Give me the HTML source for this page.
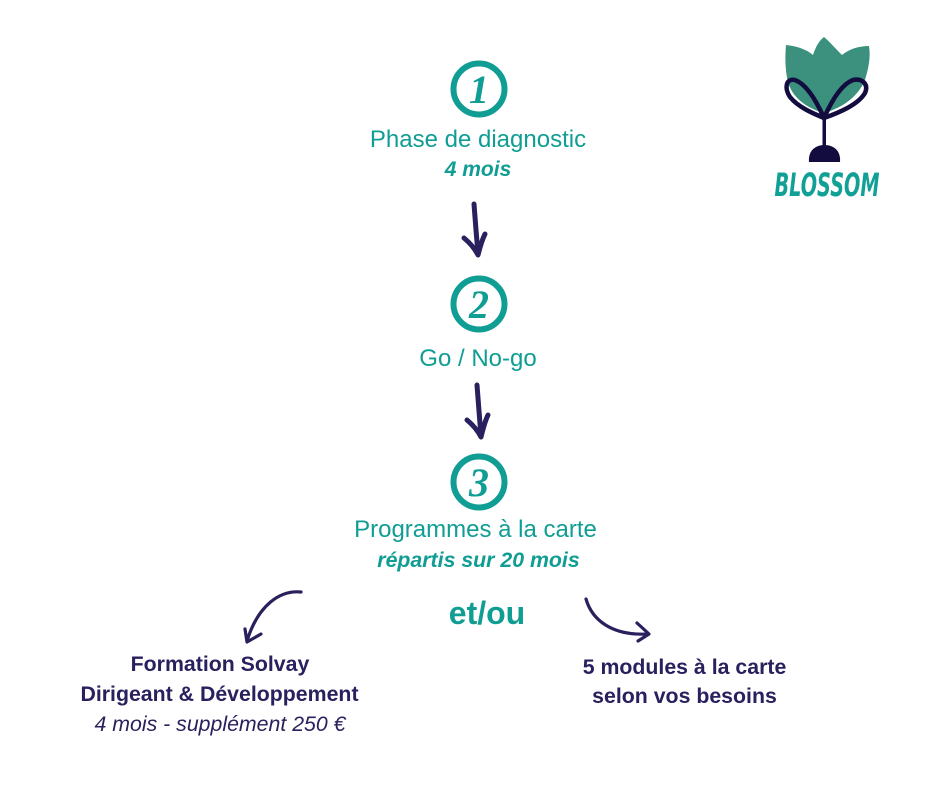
<!DOCTYPE html>
<html>
<head>
<meta charset="utf-8">
<style>
  html,body{margin:0;padding:0;background:#fff;}
  body{width:940px;height:788px;overflow:hidden;}
  svg{display:block;}
  .t{font-family:"Liberation Sans",Arial,sans-serif;}
</style>
</head>
<body>
<svg width="940" height="788" viewBox="0 0 940 788" xmlns="http://www.w3.org/2000/svg">
  <rect width="940" height="788" fill="#fff"/>

  <!-- Logo -->
  <path d="M786,45 C796,46 806,49 813,55 C816,46 819,41 824,37 C829,41 834,47 842,55 C849,49 859,46 869,46 C871,58 868,70 865,80 C858,97 842,108 824,113 C806,108 792,97 788,82 C785,70 785,57 786,45 Z" fill="#3b917e"/>
  <path d="M824,118 C816,100 806,84 795,80 C786,78 784,88 790,97 C798,107 812,113 824,118 Z" fill="none" stroke="#120c3f" stroke-width="4.5" stroke-linejoin="round"/>
  <path d="M824,118 C832,100 842,84 853,80 C862,78 869,84 865,93 C858,105 838,113 824,118 Z" fill="none" stroke="#120c3f" stroke-width="4.5" stroke-linejoin="round"/>
  <rect x="822.5" y="114" width="3.5" height="34" fill="#120c3f"/>
  <path d="M809,162 C808,151 815,145 824.5,145 C834,145 841,151 840,162 Z" fill="#120c3f"/>
  <text x="827" y="196" text-anchor="middle" font-family="'DejaVu Sans',sans-serif" font-weight="bold" font-style="italic" font-size="32" fill="#11a096" textLength="105" lengthAdjust="spacingAndGlyphs">BLOSSOM</text>

  <!-- Step circles -->
  <circle cx="479" cy="89" r="25.5" fill="none" stroke="#109d94" stroke-width="6"/>
  <text x="479" y="103" text-anchor="middle" font-family="'Liberation Serif',serif" font-weight="bold" font-style="italic" font-size="40" fill="#109d94">1</text>

  <circle cx="479" cy="304" r="25.5" fill="none" stroke="#109d94" stroke-width="6"/>
  <text x="479" y="318" text-anchor="middle" font-family="'Liberation Serif',serif" font-weight="bold" font-style="italic" font-size="40" fill="#109d94">2</text>

  <circle cx="479" cy="482" r="25.5" fill="none" stroke="#109d94" stroke-width="6"/>
  <text x="479" y="496" text-anchor="middle" font-family="'Liberation Serif',serif" font-weight="bold" font-style="italic" font-size="40" fill="#109d94">3</text>

  <!-- Texts teal -->
  <text class="t" x="478" y="147" text-anchor="middle" font-size="24" fill="#109d94">Phase de diagnostic</text>
  <text class="t" x="478" y="176" text-anchor="middle" font-size="21" font-weight="bold" font-style="italic" fill="#109d94">4 mois</text>

  <text class="t" x="478" y="366" text-anchor="middle" font-size="24" fill="#109d94">Go / No-go</text>

  <text class="t" x="475.5" y="537" text-anchor="middle" font-size="24" fill="#109d94">Programmes à la carte</text>
  <text class="t" x="478.5" y="567" text-anchor="middle" font-size="21.3" font-weight="bold" font-style="italic" fill="#109d94">répartis sur 20 mois</text>

  <text class="t" x="487" y="624" text-anchor="middle" font-size="32" font-weight="bold" fill="#109d94">et/ou</text>

  <!-- Down arrows -->
  <g stroke="#28215e" stroke-width="5" stroke-linecap="round" fill="none" stroke-linejoin="round">
    <path d="M474,204 L476,230 L478,254"/>
    <path d="M464,238 C470,243 475,249 478,255 C480,247 482,240 485,234"/>
    <path d="M477,385 L479,411 L481,436"/>
    <path d="M467,420 C473,425 478,431 481,437 C483,429 485,421 488,415"/>
  </g>

  <!-- Curved arrows -->
  <g stroke="#28215e" stroke-width="3.2" stroke-linecap="round" fill="none" stroke-linejoin="round">
    <path d="M301,592 C280,590 258,605 247,641"/>
    <path d="M245,629 L247,642 L261,634"/>
    <path d="M586,599 C592,620 612,636 648,634"/>
    <path d="M637,623 L649,634 L638,641"/>
  </g>

  <!-- Bottom texts navy -->
  <text class="t" x="220" y="671" text-anchor="middle" font-size="21.3" font-weight="bold" fill="#28215e">Formation Solvay</text>
  <text class="t" x="219.5" y="701" text-anchor="middle" font-size="21.3" font-weight="bold" fill="#28215e">Dirigeant &amp; Développement</text>
  <text class="t" x="220" y="731" text-anchor="middle" font-size="21.3" font-style="italic" fill="#28215e">4 mois - supplément 250 €</text>

  <text class="t" x="684.5" y="674" text-anchor="middle" font-size="21.3" font-weight="bold" fill="#28215e">5 modules à la carte</text>
  <text class="t" x="684.5" y="703" text-anchor="middle" font-size="21.3" font-weight="bold" fill="#28215e">selon vos besoins</text>
</svg>
</body>
</html>
